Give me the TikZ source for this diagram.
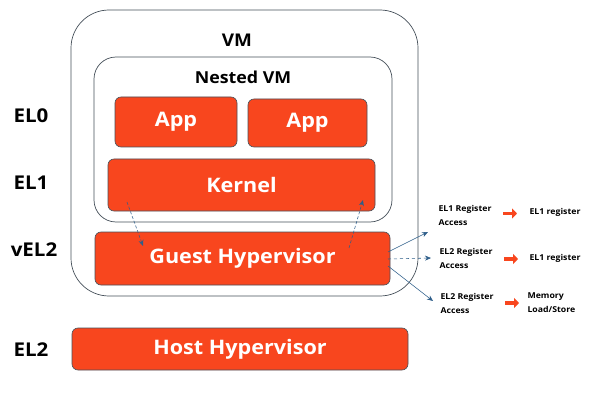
\documentclass[tikz,border=0pt]{standalone}
\usepackage{fontspec}
\setmainfont{Open Sans}[FakeStretch=1.08]
\usetikzlibrary{arrows.meta}
\definecolor{boxred}{RGB}{248,70,30}
\definecolor{linegray}{RGB}{70,80,90}
\definecolor{arrblue}{RGB}{46,94,138}
\begin{document}
\begin{tikzpicture}[x=1pt,y=-1pt,
  frame/.style={draw=linegray,line width=0.7pt,rounded corners=#1},
  redbox/.style={draw=linegray,line width=0.6pt,fill=boxred,rounded corners=6pt,text=white,font=\bfseries\fontsize{20}{24}\selectfont},
  lvl/.style={font=\bfseries\fontsize{19}{22}\selectfont,text=black},
  small/.style={font=\bfseries\fontsize{8.1}{14}\selectfont,align=left,anchor=west,text=black},
  blarrow/.style={draw=arrblue,line width=0.55pt,-{Stealth[length=6pt,width=5pt]}},
  oarrow/.style={draw=boxred,line width=3.5pt,-{Triangle[length=5pt,width=10pt]}}]
\useasboundingbox[fill=white] (0,0) rectangle (598,404);
% frames
\draw[frame=38pt] (71,10) rectangle (418,296);
\draw[frame=22pt] (94,57) rectangle (392,222);
\node[font=\bfseries\fontsize{17.5}{20}\selectfont] (vm) at (237,40) {VM};
\node[font=\bfseries\fontsize{16.5}{20}\selectfont] (nvm) at (243,77) {Nested VM};
% boxes
\node[redbox,minimum width=122pt,minimum height=50pt] (app1) at (176,122) {App};
\node[redbox,minimum width=119pt,minimum height=48pt] (app2) at (307.5,123) {App};
\node[redbox,minimum width=267pt,minimum height=52pt] (kernel) at (241.5,185) {Kernel};
\node[redbox,minimum width=295pt,minimum height=53pt] (guest) at (242.5,258.5) {Guest Hypervisor};
\node[redbox,minimum width=336pt,minimum height=42pt] (host) at (240,349) {Host Hypervisor};
% levels
\node[lvl] (el0) at (31,116) {EL0};
\node[lvl] (el1) at (31,183) {EL1};
\node[lvl] (vel2) at (34,250) {vEL2};
\node[lvl] (el2) at (31,350) {EL2};
% inner arrows
\coordinate (k1) at (127,202);
\coordinate (g1) at (143,246);
\coordinate (g2) at (349,248);
\coordinate (k2) at (363,200);
\draw[blarrow,densely dashed] (k1) -- (g1);
\draw[blarrow,densely dashed] (g2) -- (k2);
% right side
\coordinate (s1) at (388,252);
\coordinate (s2) at (388,259);
\coordinate (s3) at (388,266);
\coordinate (t1) at (428,232);
\coordinate (t2) at (431,258);
\coordinate (t3) at (433,301);
\node[small] (a1) at (435,215) {EL1 Register\\Access};
\node[small] (a2) at (436,258) {EL2 Register\\Access};
\node[small] (a3) at (437,303) {EL2 Register\\Access};
\draw[blarrow] (s1) -- (t1);
\draw[blarrow,dashed] (s2) -- (t2);
\draw[blarrow] (s3) -- (t3);
\node[small] (r1) at (526,212) {EL1 register};
\node[small] (r2) at (526,258) {EL1 register};
\node[small] (r3) at (524,303) {Memory\\Load/Store};
\coordinate (o1s) at (503,213.5);
\coordinate (o2s) at (504,259);
\coordinate (o3s) at (505,303);
\draw[oarrow] (o1s) -- ++(14,0);
\draw[oarrow] (o2s) -- ++(14,0);
\draw[oarrow] (o3s) -- ++(14,0);
\end{tikzpicture}
\end{document}
